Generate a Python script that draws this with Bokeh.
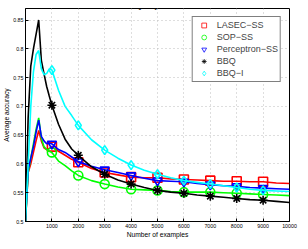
from bokeh.plotting import figure
from bokeh.models import Range1d, Legend, LegendItem, Label, FixedTicker, ColumnDataSource
from bokeh.embed import file_html
from bokeh.resources import INLINE

# ---- data ----
x = [0, 100, 200, 300, 400, 500, 600, 700, 800, 900, 1000, 1250, 1500, 1750, 2000,
     2500, 3000, 3500, 4000, 4500, 5000, 5500, 6000, 6500, 7000, 7500, 8000, 8500,
     9000, 9500, 10000]

lasec = [0.50, 0.585, 0.60, 0.62, 0.64, 0.658, 0.64, 0.628, 0.625, 0.627, 0.630, 0.622,
         0.615, 0.608, 0.603, 0.592, 0.585, 0.581, 0.577, 0.576, 0.576, 0.574, 0.573,
         0.572, 0.571, 0.570, 0.570, 0.569, 0.569, 0.567, 0.566]
sop = [0.50, 0.585, 0.61, 0.635, 0.66, 0.680, 0.645, 0.630, 0.625, 0.622, 0.620, 0.605,
       0.597, 0.588, 0.580, 0.571, 0.565, 0.560, 0.556, 0.555, 0.554, 0.552, 0.551,
       0.551, 0.551, 0.550, 0.549, 0.548, 0.547, 0.546, 0.545]
perc = [0.50, 0.59, 0.61, 0.63, 0.655, 0.676, 0.648, 0.640, 0.635, 0.636, 0.635, 0.625,
        0.620, 0.612, 0.604, 0.596, 0.590, 0.585, 0.580, 0.575, 0.571, 0.570, 0.569,
        0.566, 0.564, 0.562, 0.561, 0.559, 0.558, 0.557, 0.556]
bbq = [0.50, 0.68, 0.77, 0.80, 0.825, 0.850, 0.780, 0.757, 0.735, 0.718, 0.702, 0.669,
       0.643, 0.626, 0.615, 0.595, 0.582, 0.572, 0.565, 0.559, 0.554, 0.551, 0.549,
       0.546, 0.544, 0.542, 0.540, 0.538, 0.537, 0.535, 0.533]
bbqi = [0.50, 0.60, 0.70, 0.76, 0.79, 0.797, 0.765, 0.755, 0.757, 0.765, 0.763, 0.728,
        0.700, 0.684, 0.667, 0.642, 0.624, 0.610, 0.598, 0.589, 0.582, 0.576, 0.571,
        0.568, 0.565, 0.562, 0.559, 0.556, 0.554, 0.553, 0.552]

marker_x = [1000, 2000, 3000, 4000, 5000, 6000, 7000, 8000, 9000]

series_names = ["LASEC\u2212SS", "SOP\u2212SS", "Perceptron\u2212SS", "BBQ", "BBQ\u2212I"]
series_vals = [lasec, sop, perc, bbq, bbqi]
colors = ["#ff0000", "#00ff00", "#0000ff", "#000000", "#00ffff"]
markers = ["square", "circle", "inverted_triangle", "asterisk", "diamond"]

x_ticks = [1000, 2000, 3000, 4000, 5000, 6000, 7000, 8000, 9000, 10000]
y_ticks = [0.5, 0.55, 0.6, 0.65, 0.7, 0.75, 0.8, 0.85]

FONT = "Liberation Sans"

p = figure(width=300, height=241, output_backend="svg", toolbar_location=None,
           x_range=Range1d(0, 10000), y_range=Range1d(0.5, 0.87),
           min_border_left=20, min_border_right=11, min_border_top=8, min_border_bottom=20)
p.outline_line_color = "black"
p.outline_line_width = 1
p.background_fill_color = "white"
p.border_fill_color = "white"

p.xaxis.ticker = FixedTicker(ticks=x_ticks)
p.yaxis.ticker = FixedTicker(ticks=y_ticks)
p.yaxis.major_label_overrides = {0.5: "0.5", 0.55: "0.55", 0.6: "0.6", 0.65: "0.65",
                                 0.7: "0.7", 0.75: "0.75", 0.8: "0.8", 0.85: "0.85"}
for ax in (p.xaxis, p.yaxis):
    ax.major_tick_in = 3
    ax.major_tick_out = 0
    ax.minor_tick_in = 0
    ax.minor_tick_out = 0
    ax.axis_line_color = "black"
    ax.major_tick_line_color = "black"
    ax.major_label_text_font = FONT
    ax.major_label_text_font_size = "5.3px"
    ax.major_label_text_color = "black"
    ax.major_label_standoff = 2
    ax.axis_label_text_font = FONT
    ax.axis_label_text_font_size = "6.7px"
    ax.axis_label_text_font_style = "normal"
    ax.axis_label_text_color = "black"
    ax.axis_label_standoff = 0
p.xaxis.axis_label = "Number of examples"
p.yaxis.axis_label = "Average accuracy"

p.grid.grid_line_color = "#bdbdbd"
p.grid.grid_line_dash = "1 3"
p.grid.grid_line_width = 1

legend_items = []
for name, vals, col, mk in zip(series_names, series_vals, colors, markers):
    src = ColumnDataSource(dict(x=x, y=vals))
    p.line("x", "y", source=src, line_color=col, line_width=1.6)
    my = [vals[x.index(m)] for m in marker_x]
    p.scatter(marker_x, my, marker=mk, size=9, line_color=col, line_width=1.6,
              fill_color=None)
    # thin marker used only for legend glyph (placed outside the visible range)
    r_leg = p.scatter([-5000], [0.0], marker=mk, size=8, line_color=col, line_width=0.8,
                      fill_color=None)
    legend_items.append(LegendItem(label=name, renderers=[r_leg]))

legend = Legend(items=legend_items, location="top_right", margin=8, padding=2,
                spacing=0, glyph_width=18, glyph_height=12, label_height=12,
                label_standoff=4, label_text_font=FONT, label_text_font_size="9px",
                border_line_color="black", border_line_width=1,
                background_fill_color="white", background_fill_alpha=1)
p.add_layout(legend, "center")

title = Label(x=141, y=216.5, x_units="screen", y_units="screen", text="Query rate = 0.1",
              text_font=FONT, text_font_size="8.6px", text_align="center",
              text_baseline="middle", text_color="black")
p.add_layout(title)

open("out.html", "w").write(file_html(p, INLINE))
